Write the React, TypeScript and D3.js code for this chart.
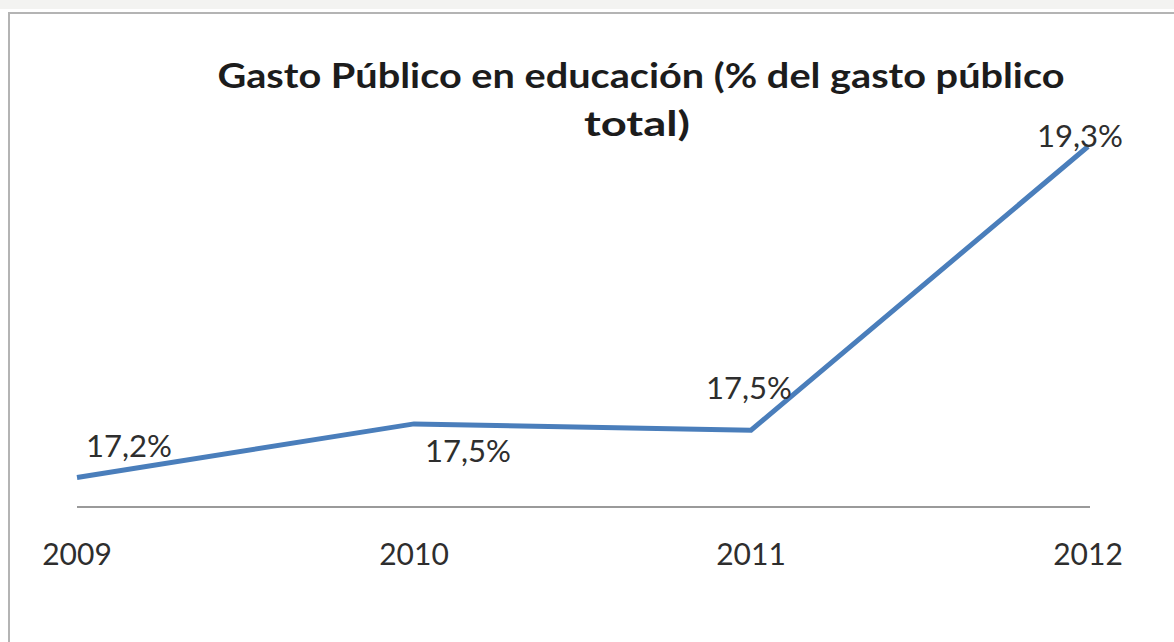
import * as d3 from "d3";

const years = ["2009", "2010", "2011", "2012"];
const gasto = [17.2, 17.54, 17.5, 19.3];
const gastoLabels = ["17,2%", "17,5%", "17,5%", "19,3%"];
const titleLines = ["Gasto Público en educación (% del gasto público", "total)"];

// where each data label sits relative to its point (Excel-ish placement)
const labelOffsets: [number, number][] = [
  [52, -20],
  [54, 38],
  [-2, -31],
  [-8, 0],
];

const width = 1174;
const height = 642;
const font = "Lato, 'Open Sans', sans-serif";

export default function App() {
  const x = d3.scalePoint<string>().domain(years).range([77, 1088]);
  const y = d3.scaleLinear().domain([17, 19.5]).range([509, 115]);

  const line = d3
    .line<number>()
    .x((_, i) => x(years[i])!)
    .y((d) => y(d));

  const axisY = y(17) - 2;

  return (
    <svg
      width={width}
      height={height}
      style={{ position: "absolute", left: 0, top: 0, background: "#fff" }}
    >
      <rect x={0} y={0} width={width} height={height} fill="#fff" />
      <rect x={0} y={0} width={width} height={9} fill="#f3f3f1" />
      {/* chart frame */}
      <path d={`M9,${height} V13 H${width}`} fill="none" stroke="#b4b4b4" strokeWidth={2} />

      {/* title, the source image is stretched sideways */}
      <g fontFamily={font} fontWeight="bold" fill="#1c1c1c" fontSize={34} textAnchor="middle">
        <text x={641} y={88} textLength={847} lengthAdjust="spacingAndGlyphs">
          {titleLines[0]}
        </text>
        <text x={637} y={136} textLength={106} lengthAdjust="spacingAndGlyphs">
          {titleLines[1]}
        </text>
      </g>

      {/* category axis */}
      <line x1={x(years[0])} x2={x(years[years.length - 1])! + 2} y1={axisY} y2={axisY} stroke="#9a9a9a" strokeWidth={2} />
      <g fontFamily={font} fontSize={30} fill="#2e2e2e" textAnchor="middle">
        {years.map((yr) => (
          <text key={yr} x={x(yr)} y={565}>
            {yr}
          </text>
        ))}
      </g>

      {/* series */}
      <path d={line(gasto)!} fill="none" stroke="#4a7ebb" strokeWidth={5} strokeLinejoin="miter" />

      <g fontFamily={font} fontSize={30} fill="#2e2e2e" textAnchor="middle">
        {gasto.map((v, i) => (
          <text
            key={i}
            x={x(years[i])! + labelOffsets[i][0]}
            y={y(v) + labelOffsets[i][1]}
            textLength={86}
            lengthAdjust="spacingAndGlyphs"
          >
            {gastoLabels[i]}
          </text>
        ))}
      </g>
    </svg>
  );
}
